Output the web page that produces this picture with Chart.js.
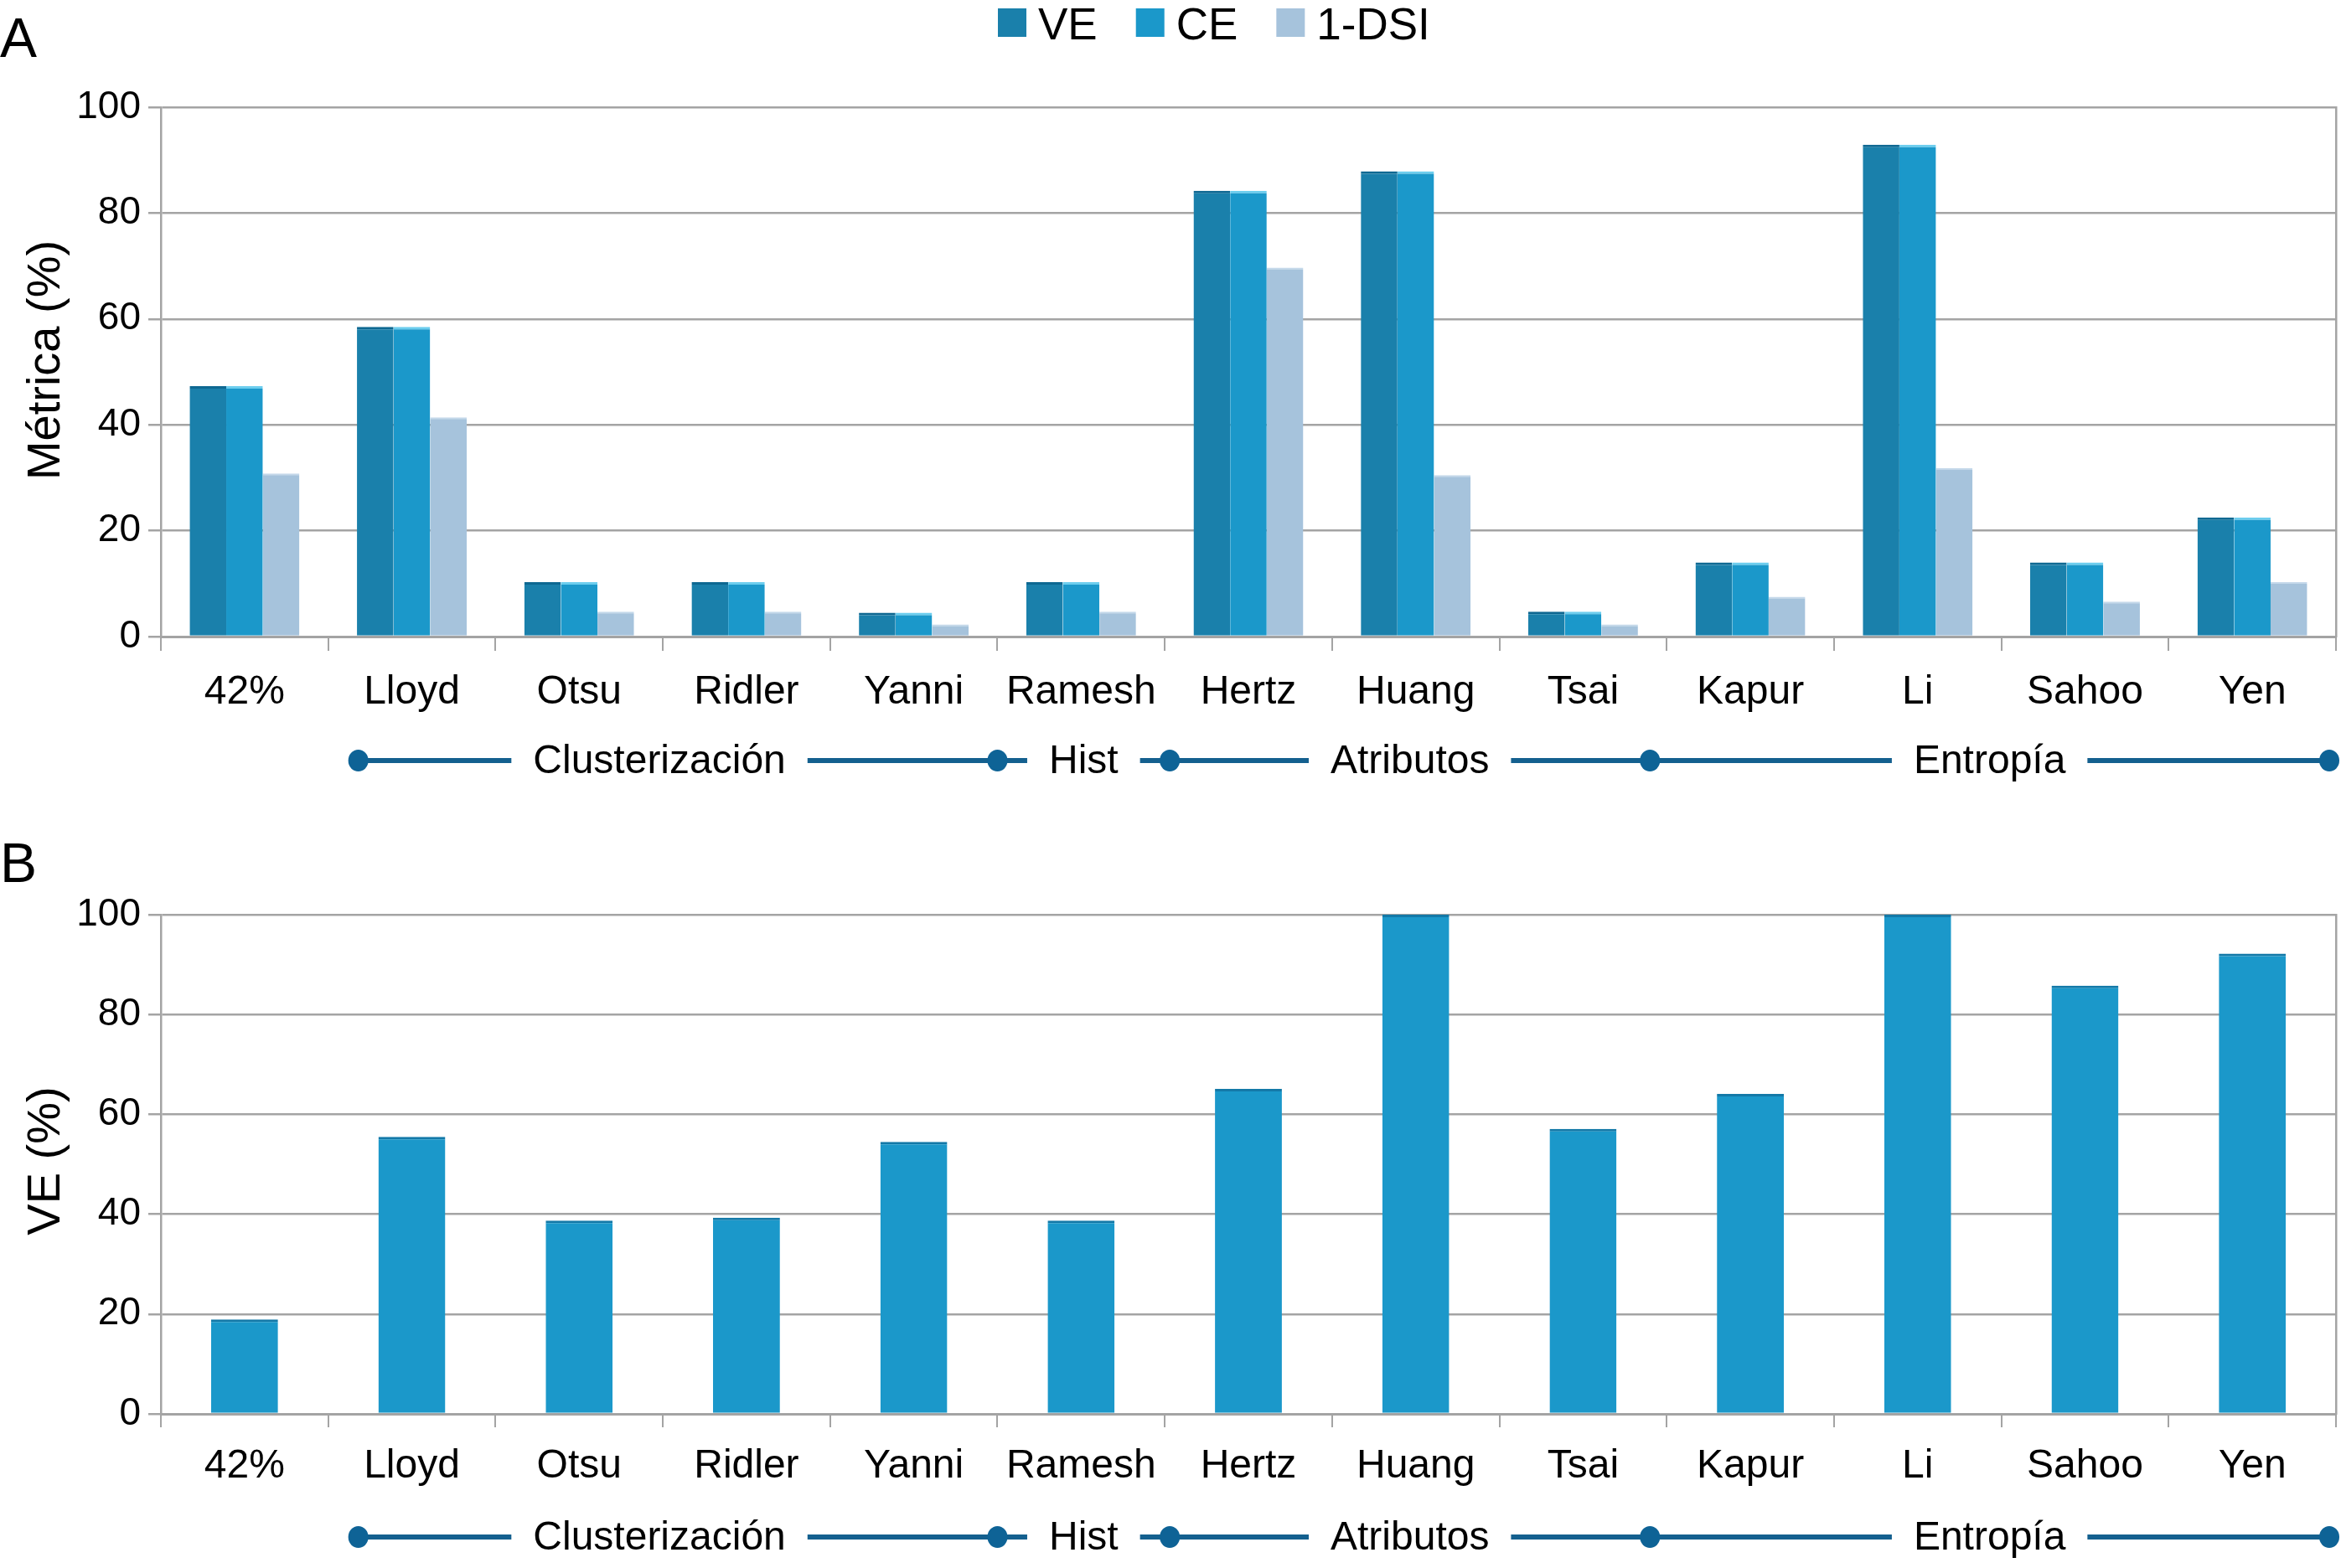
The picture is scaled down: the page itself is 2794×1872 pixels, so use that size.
<!DOCTYPE html>
<html>
<head>
<meta charset="utf-8">
<script src="https://cdn.jsdelivr.net/npm/chart.js@4.4.1/dist/chart.umd.min.js"></script>
<style>
  body { margin: 0; background: #fff; overflow: hidden; }
  canvas { position: absolute; left: 0; }
</style>
</head>
<body>
<canvas id="chartA" width="2794" height="980" style="top:0px"></canvas>
<canvas id="chartB" width="2794" height="892" style="top:980px"></canvas>
<script>
const categories = ['42%', 'Lloyd', 'Otsu', 'Ridler', 'Yanni', 'Ramesh', 'Hertz', 'Huang', 'Tsai', 'Kapur', 'Li', 'Sahoo', 'Yen'];
const veA  = [47.3, 58.5, 10.3, 10.3, 4.5, 10.3, 84.2, 87.9, 4.7, 14.0, 92.9, 14.0, 22.5];
const ceA  = [47.3, 58.5, 10.3, 10.3, 4.5, 10.3, 84.2, 87.9, 4.7, 14.0, 92.9, 14.0, 22.5];
const dsiA = [30.8, 41.4, 4.7, 4.7, 2.3, 4.7, 69.7, 30.5, 2.3, 7.5, 31.8, 6.6, 10.3];
const veB  = [18.9, 55.5, 38.7, 39.3, 54.5, 38.7, 65.1, 100, 57.1, 64.1, 100, 85.8, 92.2];
const yTicks = [0, 20, 40, 60, 80, 100];
const groupNames  = ['Clusterización', 'Hist', 'Atributos', 'Entropía'];
const groupBounds = [1.18, 5, 6.03, 8.9, 12.96]; // in category units

const FONT = "'Liberation Sans', Arial, sans-serif";
Chart.defaults.font.family = FONT;
Chart.defaults.color = '#000';

const GRID = '#a4a4a4';
const DARK = '#1a80ab', MID = '#1b98ca', LIGHT = '#a6c3dc';

// panel letter (A / B) and rotated y title
const panelLabel = {
  id: 'panelLabel',
  afterDraw(chart, args, opts) {
    const ctx = chart.ctx;
    const ca = chart.chartArea;
    ctx.save();
    ctx.font = '66px ' + FONT;
    ctx.fillStyle = '#000';
    ctx.textBaseline = 'alphabetic';
    ctx.fillText(opts.text, 0, opts.y);
    ctx.translate(56, (ca.top + ca.bottom) / 2 + opts.titleShift);
    ctx.rotate(-Math.PI / 2);
    ctx.font = '56px ' + FONT;
    ctx.textAlign = 'center';
    ctx.textBaseline = 'middle';
    ctx.fillText(opts.title, 0, 0);
    ctx.restore();
  }
};

// legend row on top of chart A
const topLegend = {
  id: 'topLegend',
  afterDraw(chart, args, opts) {
    if (!opts.show) return;
    const ctx = chart.ctx;
    ctx.save();
    ctx.font = '53px ' + FONT;
    ctx.textBaseline = 'alphabetic';
    let x = 1191;
    chart.data.datasets.forEach(ds => {
      ctx.fillStyle = ds.backgroundColor;
      ctx.fillRect(x, 10, 34, 34);
      x += 34 + 14;
      ctx.fillStyle = '#000';
      ctx.fillText(ds.label, x, 47);
      x += ctx.measureText(ds.label).width + 46;
    });
    ctx.restore();
  }
};

// method groups under the category labels
const groupRow = {
  id: 'groupRow',
  afterDraw(chart, args, opts) {
    const ctx = chart.ctx;
    const xs = chart.scales.x;
    const y = chart.chartArea.bottom + opts.offset;
    const px = b => xs.getPixelForValue(b - 0.5);
    ctx.save();
    ctx.font = '48px ' + FONT;
    ctx.textBaseline = 'middle';
    ctx.textAlign = 'center';
    ctx.lineWidth = 6;
    ctx.strokeStyle = '#14608f';
    const gap = 26;
    groupNames.forEach((name, i) => {
      const x0 = px(groupBounds[i]), x1 = px(groupBounds[i + 1]);
      const c = (x0 + x1) / 2 - (i === 0 ? 22 : 0);
      const w = ctx.measureText(name).width;
      ctx.beginPath();
      ctx.moveTo(x0, y); ctx.lineTo(c - w / 2 - gap, y);
      ctx.moveTo(c + w / 2 + gap, y); ctx.lineTo(x1, y);
      ctx.stroke();
      ctx.fillStyle = '#000';
      ctx.fillText(name, c, y + 2);
    });
    ctx.fillStyle = '#0e6396';
    groupBounds.forEach(b => {
      ctx.beginPath();
      ctx.ellipse(px(b), y, 12, 13, 0, 0, Math.PI * 2);
      ctx.fill();
    });
    ctx.restore();
  }
};

function makeScales(xHeight, tickLen, labelPad) {
  return {
    x: {
      afterFit: s => { s.height = xHeight; },
      grid: { drawOnChartArea: false, color: GRID, lineWidth: 2, tickLength: tickLen, offset: true },
      border: { color: GRID, width: 3 },
      ticks: { color: '#000', font: { size: 48 }, padding: labelPad, maxRotation: 0, autoSkip: false }
    },
    y: {
      min: 0, max: 100,
      afterBuildTicks: s => { s.ticks = yTicks.map(v => ({ value: v })); },
      afterFit: s => { s.width = 192; },
      border: { color: GRID, width: 2.5 },
      grid: { color: GRID, lineWidth: 2.5, tickLength: 15 },
      ticks: { color: '#000', font: { size: 46 }, padding: 9 }
    },
    y2: {
      position: 'right', min: 0, max: 100,
      ticks: { display: false },
      grid: { drawOnChartArea: false, drawTicks: false },
      border: { color: GRID, width: 2.5 },
      afterFit: s => { s.width = 6; }
    }
  };
}

new Chart(document.getElementById('chartA'), {
  type: 'bar',
  data: {
    labels: categories,
    datasets: [
      { label: 'VE', data: veA, backgroundColor: DARK, borderColor: '#0e6892',
        borderWidth: { top: 3, left: 0, right: 0, bottom: 0 } },
      { label: 'CE', data: ceA, backgroundColor: MID, borderColor: '#6ccdee',
        borderWidth: { top: 3, left: 0, right: 0, bottom: 0 } },
      { label: '1-DSI', data: dsiA, backgroundColor: LIGHT, borderColor: '#c4d8ea',
        borderWidth: { top: 2, left: 0, right: 0, bottom: 0 } }
    ]
  },
  options: {
    responsive: false, animation: false, devicePixelRatio: 1,
    categoryPercentage: 0.656, barPercentage: 1.0,
    layout: { padding: { top: 128, left: 0, right: 0, bottom: 0 } },
    scales: makeScales(220, 17, 21),
    plugins: {
      legend: { display: false },
      tooltip: { enabled: false },
      panelLabel: { text: 'A', y: 68, title: 'Métrica (%)', titleShift: -14 },
      topLegend: { show: true },
      groupRow: { offset: 148 }
    }
  },
  plugins: [panelLabel, topLegend, groupRow]
});

new Chart(document.getElementById('chartB'), {
  type: 'bar',
  data: {
    labels: categories,
    datasets: [
      { label: 'VE', data: veB, backgroundColor: MID, borderColor: '#1379a8',
        borderWidth: { top: 3, left: 0, right: 0, bottom: 0 } }
    ]
  },
  options: {
    responsive: false, animation: false, devicePixelRatio: 1,
    categoryPercentage: 0.4, barPercentage: 1.0,
    layout: { padding: { top: 112, left: 0, right: 0, bottom: 0 } },
    scales: makeScales(184, 16, 18),
    plugins: {
      legend: { display: false },
      tooltip: { enabled: false },
      panelLabel: { text: 'B', y: 73, title: 'VE (%)', titleShift: -4 },
      topLegend: { show: false },
      groupRow: { offset: 147 }
    }
  },
  plugins: [panelLabel, topLegend, groupRow]
});
</script>
</body>
</html>
